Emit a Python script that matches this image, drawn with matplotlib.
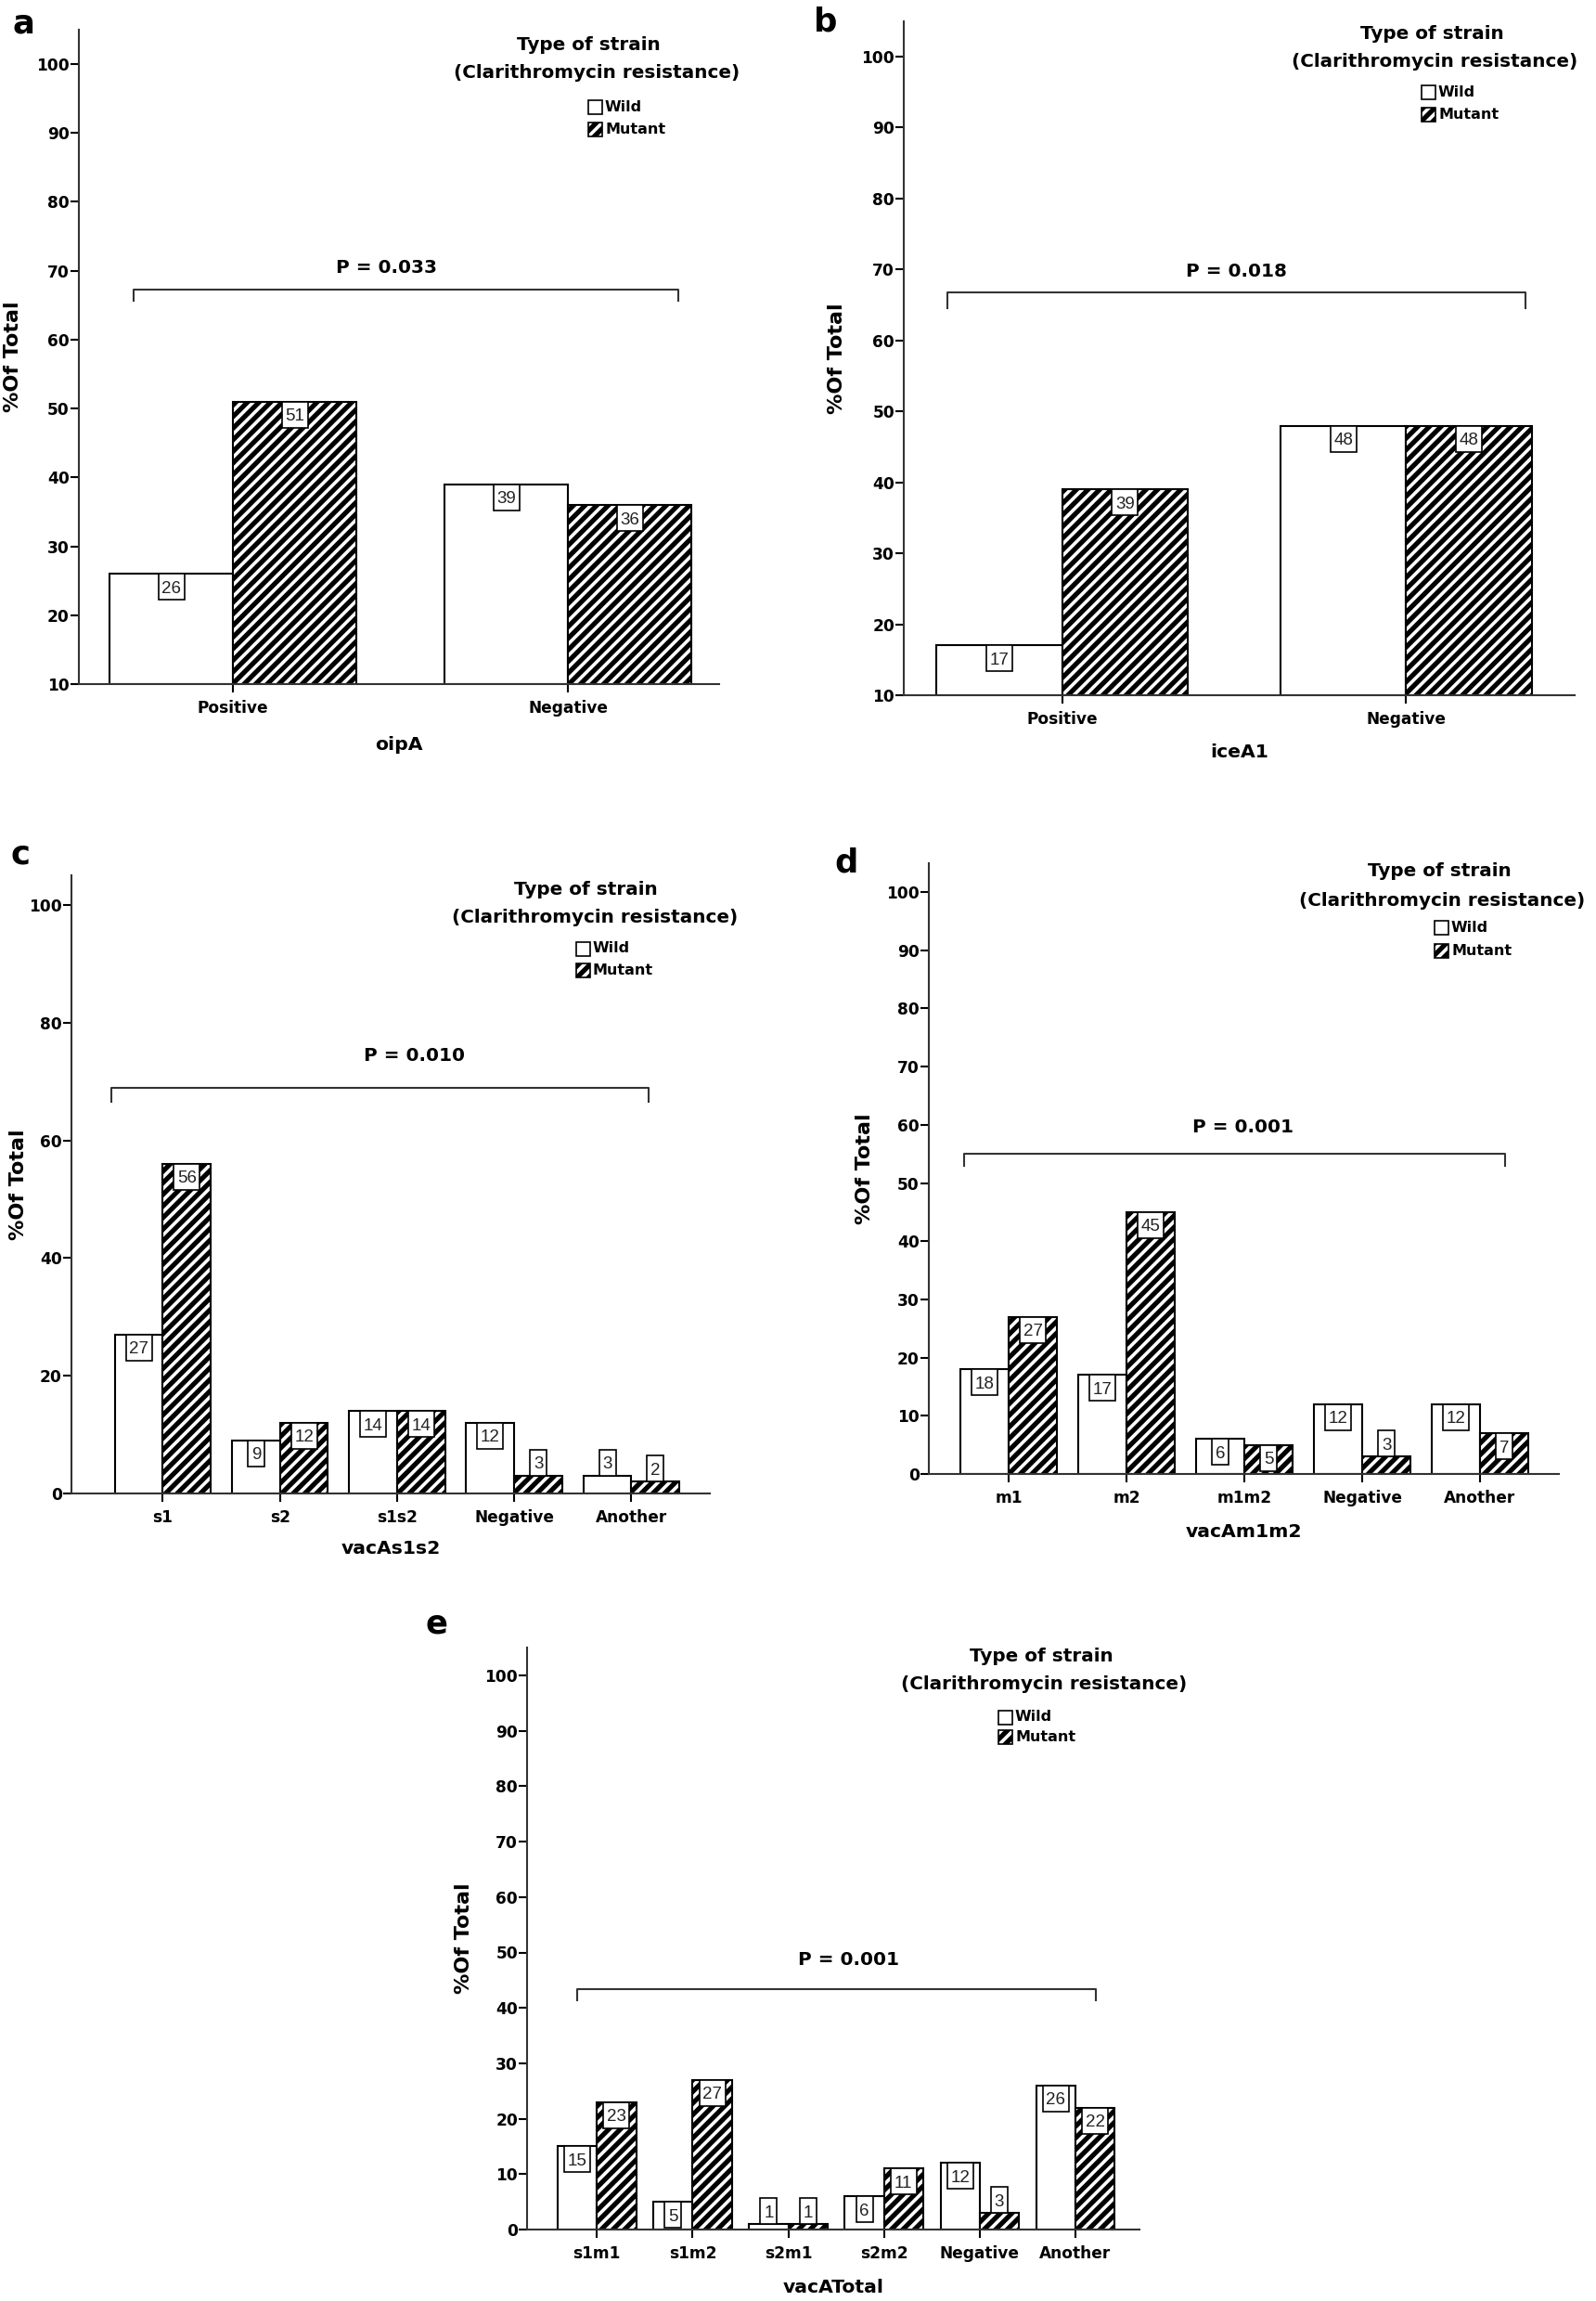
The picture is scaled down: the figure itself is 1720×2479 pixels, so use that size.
import numpy as np
import matplotlib
matplotlib.use('Agg')
import matplotlib.pyplot as plt
from matplotlib.patches import Rectangle
from matplotlib.transforms import ScaledTranslation

W, H, DPI = 1720, 2479, 150

# ---- data (percent of total) ----
oipa_cats = ['Positive', 'Negative']
oipa_wild = [26, 39]
oipa_mut = [51, 36]

icea_cats = ['Positive', 'Negative']
icea_wild = [17, 48]
icea_mut = [39, 48]

s1s2_cats = ['s1', 's2', 's1s2', 'Negative', 'Another']
s1s2_wild = [27, 9, 14, 12, 3]
s1s2_mut = [56, 12, 14, 3, 2]

m1m2_cats = ['m1', 'm2', 'm1m2', 'Negative', 'Another']
m1m2_wild = [18, 17, 6, 12, 12]
m1m2_mut = [27, 45, 5, 3, 7]

tot_cats = ['s1m1', 's1m2', 's2m1', 's2m2', 'Negative', 'Another']
tot_wild = [15, 5, 1, 6, 12, 26]
tot_mut = [23, 27, 1, 11, 3, 22]

xlabels = ['oipA', 'iceA1', 'vacAs1s2', 'vacAm1m2', 'vacATotal']
pvals = ['P = 0.033', 'P = 0.018', 'P = 0.010', 'P = 0.001', 'P = 0.001']
letters = ['a', 'b', 'c', 'd', 'e']

plt.rcParams['font.family'] = 'DejaVu Sans'
plt.rcParams['font.weight'] = 'bold'
plt.rcParams['axes.labelweight'] = 'bold'
plt.rcParams['hatch.linewidth'] = 2.5

fig = plt.figure(figsize=(W / DPI, H / DPI), dpi=DPI)
fig.patch.set_facecolor('white')

# layout in pixels: axis left/right, y of base tick, y of 100 tick, base value
panels = [
    dict(cats=oipa_cats, wild=oipa_wild, mut=oipa_mut, box=(85, 775, 737, 69, 10),
         xlim=(-0.46, 1.45), w=0.368, yticks=range(10, 101, 10),
         bracket=(-0.296, 1.327, 67.3, 65.7), ptxt=(0.457, 70.4),
         yoff=73, xoff=68, leg=(634, 48, 643, 78, 634, 115, 139), let=(25, 25)),
    dict(cats=icea_cats, wild=icea_wild, mut=icea_mut, box=(974, 1697, 749, 61, 10),
         xlim=(-0.46, 1.49), w=0.365, yticks=range(10, 101, 10),
         bracket=(-0.334, 1.348, 66.8, 64.6), ptxt=(0.507, 69.7),
         yoff=74, xoff=64, leg=(1543, 36, 1546, 67, 1532, 99, 123), let=(890, 24)),
    dict(cats=s1s2_cats, wild=s1s2_wild, mut=s1s2_mut, box=(77, 765, 1609, 975, 0),
         xlim=(-0.78, 4.67), w=0.41, yticks=range(0, 101, 20),
         bracket=(-0.44, 4.15, 68.9, 66.6), ptxt=(2.15, 74.3),
         yoff=59, xoff=62, leg=(631, 958, 641, 989, 621, 1022, 1045), let=(22, 921)),
    dict(cats=m1m2_cats, wild=m1m2_wild, mut=m1m2_mut, box=(1001, 1680, 1588, 961, 0),
         xlim=(-0.68, 4.67), w=0.41, yticks=range(0, 101, 10),
         bracket=(-0.38, 4.21, 55.0, 53.0), ptxt=(1.99, 59.6),
         yoff=71, xoff=65, leg=(1551, 939, 1554, 970, 1546, 1000, 1024), let=(912, 929)),
    dict(cats=tot_cats, wild=tot_wild, mut=tot_mut, box=(568, 1228, 2402, 1805, 0),
         xlim=(-0.73, 5.67), w=0.41, yticks=range(0, 101, 10),
         bracket=(-0.21, 5.21, 43.3, 41.3), ptxt=(2.63, 48.6),
         yoff=70, xoff=65, leg=(1122, 1785, 1125, 1814, 1076, 1850, 1871), let=(470, 1749)),
]

TOP = 105
axis_col = '#333333'
HATCH = '////'


def fx(x):
    return x / W


def fy(y):
    return 1 - y / H


def value_label(ax, xi, v, base):
    # boxed count, hanging from the bar top (or sitting on it for short bars)
    n = len(str(v))
    bw = (8 + 10 * n) / DPI
    bh = 28 / DPI
    trans = fig.dpi_scale_trans + ScaledTranslation(xi, v, ax.transData)
    y0 = 0 if v - base < 4 else -bh
    ax.add_patch(Rectangle((-bw / 2, y0), bw, bh, transform=trans, fc='white',
                           ec='black', lw=0.8, zorder=3, clip_on=False))
    ax.text(0, y0 + bh / 2 - 6.5 / DPI, str(v), transform=trans, ha='center',
            va='baseline', fontsize=9, fontweight='normal', family='Liberation Sans',
            color='#222222', zorder=4)


for i, p in enumerate(panels):
    l, r, yb, y100, base = p['box']
    hpx = (yb - y100) * (TOP - base) / (100 - base)
    wpx = r - l
    ax = fig.add_axes([fx(l), fy(yb), wpx / W, hpx / H])
    x = np.arange(len(p['cats']))
    w = p['w']
    wild = np.array(p['wild'])
    mut = np.array(p['mut'])
    ax.bar(x - w / 2, wild - base, w, bottom=base, color='white', edgecolor='black', lw=1)
    ax.bar(x + w / 2, mut - base, w, bottom=base, color='white', edgecolor='black', lw=1,
           hatch=HATCH)
    for xi, v in zip(x - w / 2, wild):
        value_label(ax, xi, v, base)
    for xi, v in zip(x + w / 2, mut):
        value_label(ax, xi, v, base)

    ax.set_xlim(*p['xlim'])
    ax.set_ylim(base, TOP)
    ax.set_yticks(list(p['yticks']))
    ax.set_xticks(x, p['cats'])
    ax.tick_params(axis='both', direction='out', length=4.3, width=1, colors='black')
    ax.tick_params(axis='y', pad=0.5, labelsize=8.2)
    ax.tick_params(axis='x', pad=4, labelsize=8.2)
    for s in ('top', 'right'):
        ax.spines[s].set_visible(False)
    for s in ('left', 'bottom'):
        ax.spines[s].set_linewidth(1)
        ax.spines[s].set_color(axis_col)
    ax.set_facecolor('none')

    ax.set_ylabel('%Of Total', fontsize=10.7)
    ax.yaxis.set_label_coords(-(p['yoff'] - 12) / wpx, 0.5)
    ax.set_xlabel(xlabels[i], fontsize=9.8)
    ax.xaxis.set_label_coords(0.5, -(p['xoff'] - 12) / hpx)

    # significance bracket
    bx0, bx1, by, bdrop = p['bracket']
    ax.plot([bx0, bx0, bx1, bx1], [bdrop, by, by, bdrop], color=axis_col, lw=1,
            clip_on=False)
    ax.text(p['ptxt'][0], p['ptxt'][1], pvals[i], ha='center', va='center',
            fontsize=9.6, fontweight='bold')

    # legend
    t1x, t1y, t2x, t2y, bxl, wy, my = p['leg']
    fig.text(fx(t1x), fy(t1y), 'Type of strain', ha='center', va='center',
             fontsize=9.6, fontweight='bold')
    fig.text(fx(t2x), fy(t2y), '(Clarithromycin resistance)', ha='center', va='center',
             fontsize=9.6, fontweight='bold')
    sz = 15
    fig.add_artist(Rectangle((fx(bxl), fy(wy + sz / 2)), sz / W, sz / H,
                             transform=fig.transFigure, fc='white', ec='black', lw=0.8))
    fig.add_artist(Rectangle((fx(bxl), fy(my + sz / 2)), sz / W, sz / H,
                             transform=fig.transFigure, fc='white', ec='black', lw=0.8,
                             hatch=HATCH))
    fig.text(fx(bxl + sz + 3), fy(wy), 'Wild', ha='left', va='center', fontsize=7.7,
             fontweight='bold')
    fig.text(fx(bxl + sz + 3), fy(my), 'Mutant', ha='left', va='center', fontsize=7.7,
             fontweight='bold')

    fig.text(fx(p['let'][0]), fy(p['let'][1]), letters[i], ha='center', va='center',
             fontsize=17, fontweight='bold')

fig.savefig('out.png', dpi=DPI, facecolor='white')
